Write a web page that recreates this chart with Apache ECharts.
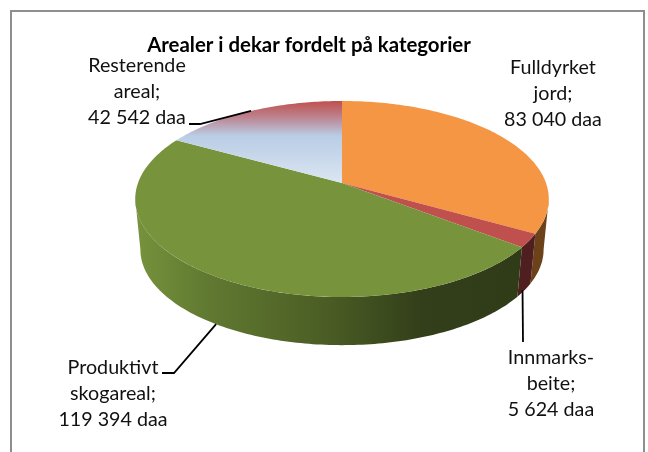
<!DOCTYPE html>
<html>
<head>
<meta charset="utf-8">
<style>
html, body { margin: 0; padding: 0; background: #fff; }
#chart { width: 648px; height: 452px; }
</style>
</head>
<body>
<div id="chart"></div>
<script src="https://cdn.jsdelivr.net/npm/echarts@6/dist/echarts.min.js"></script>
<script>
const chartTitle = 'Arealer i dekar fordelt på kategorier'
const categories = ['Fulldyrket\njord', 'Innmarks-\nbeite', 'Produktivt\nskogareal', 'Resterende\nareal']
const areas = [83040, 5624, 119394, 42542]
const unit = 'daa'

const font = 'Lato'
// pie projection, front of the pie is drawn larger than the back
const pie = { cx: 342, cy: 183, rx: 204, ry: 95.4, persp: 0.163, depth: 51, bottomScale: 0.975 }
const labelPos = [[553, 68], [551, 358], [113, 368], [137, 66]]
// elbow of the leader line, the other end is on the rim at the middle of the slice
const leaders = [
  null,
  { rim: 'bottom', shift: -2, via: [[523, 342]] },
  { rim: 'bottom', shift: 0, via: [[174, 373], [162, 373]] },
  { rim: 'top', shift: 0, via: [[200, 124], [189, 124]] }
]

function hGrad(stops) {
  return new echarts.graphic.LinearGradient(135, 0, 549, 0, stops.map(s => ({ offset: (s[0] - 135) / 414, color: s[1] })), true)
}
const topFills = [
  '#F59645',
  '#C0504D',
  '#77933C',
  new echarts.graphic.LinearGradient(0, 101, 0, 184, [
    { offset: 0, color: '#C0504D' },
    { offset: 0.18, color: '#BC7F8A' },
    { offset: 0.42, color: '#B9CDE5' },
    { offset: 1, color: '#DCE6F2' }
  ], true)
]
const wallFills = [
  '#6B4219',
  '#4F1F20',
  hGrad([[135, '#77933C'], [205, '#617A31'], [330, '#4A5C24'], [420, '#333F1A'], [549, '#2F3A17']]),
  '#5A6A7A'
]

const total = areas.reduce((a, b) => a + b, 0)
const startAngles = []
let sum = 0
areas.forEach(v => {
  startAngles.push(sum / total * 360)
  sum += v
})

// the walls are only seen between the two widest points of the rim
const wallFrom = Math.acos(-pie.persp) * 180 / Math.PI
const wallTo = 360 - wallFrom

function project(deg, bottom) {
  const a = deg * Math.PI / 180
  const u = Math.sin(a)
  const v = -Math.cos(a)
  const w = 1 - pie.persp * v
  const s = bottom ? pie.bottomScale : 1
  return [
    pie.cx + s * pie.rx * u / w,
    pie.cy + s * pie.ry * v / w + (bottom ? pie.depth : 0)
  ]
}

function rim(from, to, bottom) {
  const pts = []
  const n = Math.max(2, Math.ceil(to - from))
  for (let i = 0; i <= n; i++) {
    pts.push(project(from + (to - from) * i / n, bottom))
  }
  return pts
}

function spaced(v) {
  return String(v).replace(/\B(?=(\d{3})+$)/g, ' ')
}

function renderSlice(params, api) {
  const i = params.dataIndex
  const value = api.value(1)
  const from = startAngles[i]
  const to = from + value / total * 360
  const children = []

  const wa = Math.max(from, wallFrom)
  const wb = Math.min(to, wallTo)
  if (wb > wa) {
    children.push({
      type: 'polygon',
      z2: 1,
      shape: { points: rim(wa, wb, false).concat(rim(wa, wb, true).reverse()) },
      style: { fill: wallFills[i] }
    })
  }
  children.push({
    type: 'polygon',
    z2: 2,
    shape: { points: [[pie.cx, pie.cy]].concat(rim(from, to, false)) },
    style: { fill: topFills[i] }
  })

  if (leaders[i]) {
    const anchor = project((from + to) / 2, leaders[i].rim === 'bottom')
    anchor[0] += leaders[i].shift
    children.push({
      type: 'polyline',
      z2: 3,
      shape: { points: [anchor].concat(leaders[i].via) },
      style: { fill: 'none', stroke: '#000', lineWidth: 1.8 }
    })
  }

  const lines = (categories[i] + ';\n' + spaced(value) + ' ' + unit).split('\n')
  lines.forEach((line, k) => {
    children.push({
      type: 'text',
      z2: 4,
      x: labelPos[i][0],
      y: labelPos[i][1] + k * 26,
      style: {
        text: line,
        fill: '#111',
        font: '19.7px ' + font,
        align: 'center',
        verticalAlign: 'middle'
      }
    })
  })

  return { type: 'group', children: children }
}

const myChart = echarts.init(document.getElementById('chart'), null, { renderer: 'canvas' })
myChart.setOption({
  animation: false,
  backgroundColor: '#fff',
  title: {
    text: chartTitle,
    left: 304,
    top: 30,
    textAlign: 'center',
    textStyle: { fontFamily: font, fontWeight: 'bold', fontSize: 20.4, color: '#000' }
  },
  graphic: [
    {
      type: 'polyline',
      shape: { points: [[11, 460], [11, 11], [644, 11], [644, 460]] },
      style: { fill: 'none', stroke: '#8E8E8E', lineWidth: 2 }
    }
  ],
  series: [
    {
      type: 'custom',
      coordinateSystem: 'none',
      renderItem: renderSlice,
      data: areas.map((v, i) => [i, v])
    }
  ]
})
</script>
</body>
</html>
